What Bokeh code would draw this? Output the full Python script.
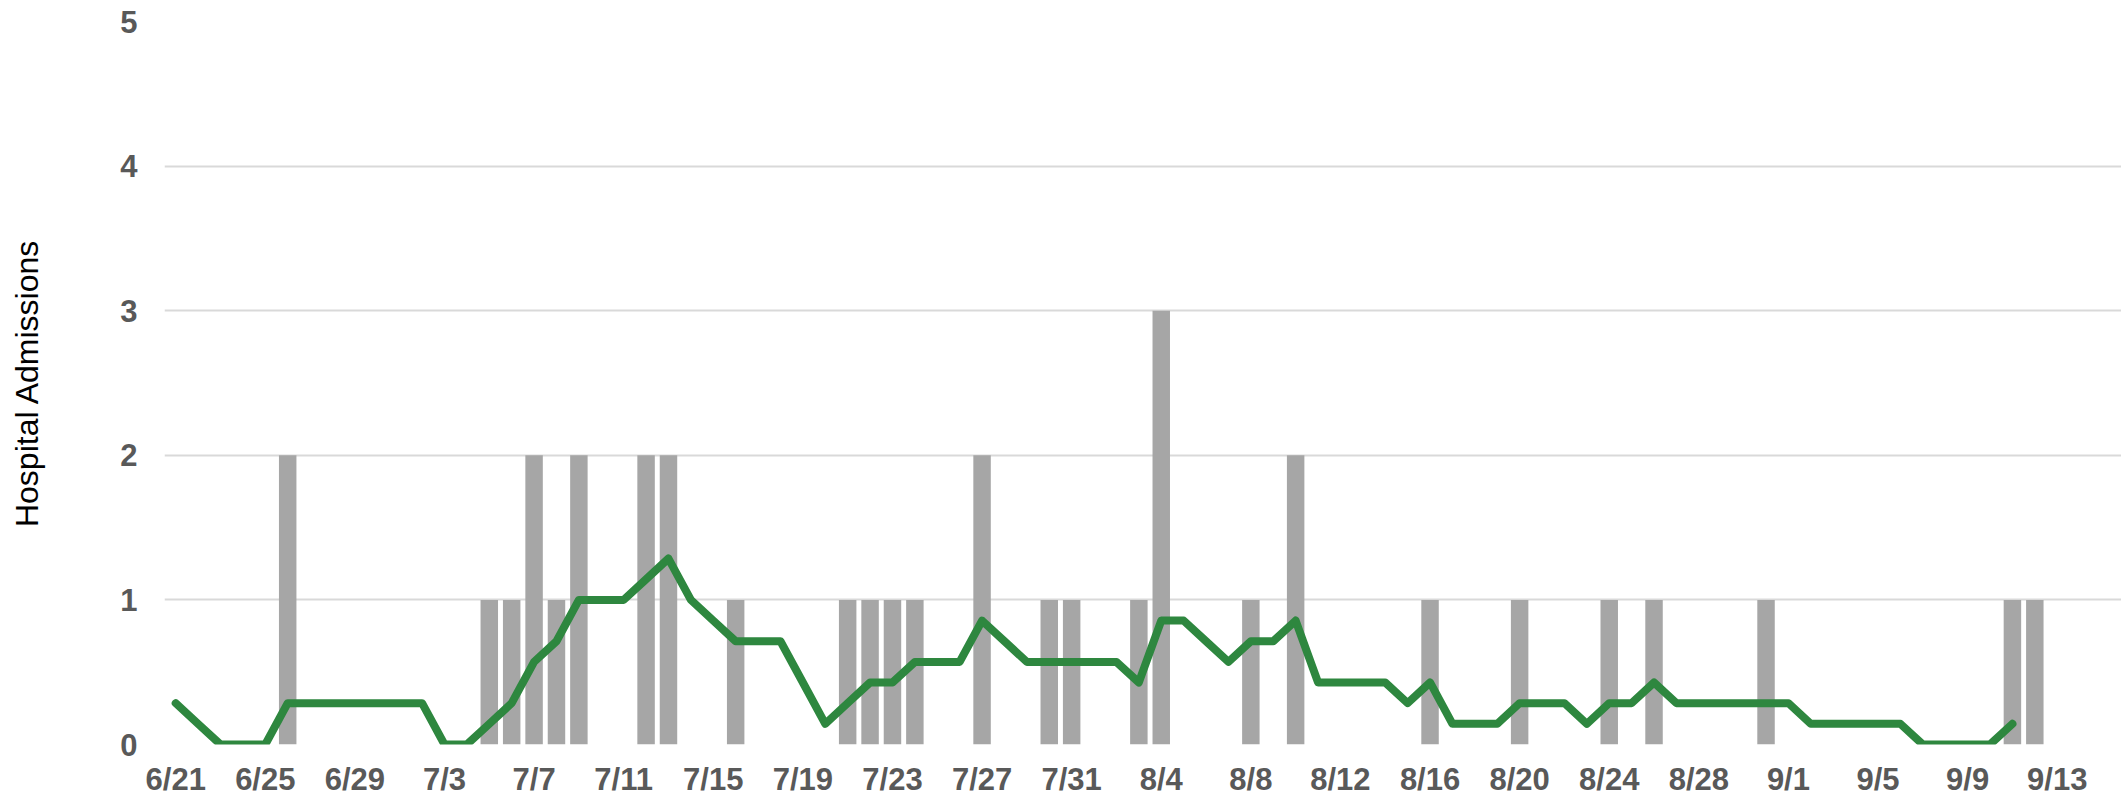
from datetime import date
from bokeh.plotting import figure
from bokeh.models import FixedTicker, Range1d
from bokeh.embed import file_html
from bokeh.resources import INLINE

YEAR = 2020
START = "6/21"

# Daily hospital admissions (gray bars)
bar_dates = ["6/26", "7/5", "7/6", "7/7", "7/8", "7/9", "7/12", "7/13", "7/16",
             "7/21", "7/22", "7/23", "7/24", "7/27", "7/30", "7/31", "8/3", "8/4",
             "8/8", "8/10", "8/16", "8/20", "8/24", "8/26", "8/31", "9/11", "9/12"]
bar_values = [2, 1, 1, 2, 1, 2, 2, 2, 1,
              1, 1, 1, 1, 2, 1, 1, 1, 3,
              1, 2, 1, 1, 1, 1, 1, 1, 1]

# 7-day average (green line), one value per day from 6/21 to 9/11
line_start = "6/21"
line_values = [0.286, 0.143, 0.0, 0.0, 0.0, 0.286, 0.286, 0.286, 0.286, 0.286,
               0.286, 0.286, 0.0, 0.0, 0.143, 0.286, 0.571, 0.714, 1.0, 1.0,
               1.0, 1.143, 1.286, 1.0, 0.857, 0.714, 0.714, 0.714, 0.429, 0.143,
               0.286, 0.429, 0.429, 0.571, 0.571, 0.571, 0.857, 0.714, 0.571, 0.571,
               0.571, 0.571, 0.571, 0.429, 0.857, 0.857, 0.714, 0.571, 0.714, 0.714,
               0.857, 0.429, 0.429, 0.429, 0.429, 0.286, 0.429, 0.143, 0.143, 0.143,
               0.286, 0.286, 0.286, 0.143, 0.286, 0.286, 0.429, 0.286, 0.286, 0.286,
               0.286, 0.286, 0.286, 0.143, 0.143, 0.143, 0.143, 0.143, 0.0, 0.0,
               0.0, 0.0, 0.143]

tick_labels = ["6/21", "6/25", "6/29", "7/3", "7/7", "7/11", "7/15", "7/19", "7/23",
               "7/27", "7/31", "8/4", "8/8", "8/12", "8/16", "8/20", "8/24", "8/28",
               "9/1", "9/5", "9/9", "9/13"]
y_ticks = [0, 1, 2, 3, 4, 5]
y_label = "Hospital Admissions"


def day_index(s):
    m, d = (int(v) for v in s.split("/"))
    m0, d0 = (int(v) for v in START.split("/"))
    return (date(YEAR, m, d) - date(YEAR, m0, d0)).days


bar_x = [day_index(s) for s in bar_dates]
l0 = day_index(line_start)
line_x = [l0 + i for i in range(len(line_values))]
tick_x = [day_index(s) for s in tick_labels]

p = figure(width=2121, height=799, output_backend="svg", toolbar_location=None,
           x_range=Range1d(-0.5, 86.87), y_range=Range1d(0, 5),
           min_border_left=164, min_border_right=0, min_border_top=21,
           min_border_bottom=52)
p.outline_line_color = None
p.background_fill_color = "white"

p.vbar(x=bar_x, top=bar_values, width=0.78, bottom=0,
       fill_color="#A6A6A6", line_color=None)
p.line(x=line_x, y=line_values, line_color="#2E873F", line_width=8,
       line_cap="round", line_join="round")

p.xgrid.grid_line_color = None
p.ygrid.grid_line_color = "#D9D9D9"
p.ygrid.grid_line_width = 2
p.ygrid.ticker = FixedTicker(ticks=y_ticks)

p.xaxis.ticker = FixedTicker(ticks=tick_x)
p.xaxis.major_label_overrides = {x: t for x, t in zip(tick_x, tick_labels)}
p.yaxis.ticker = FixedTicker(ticks=y_ticks)

for ax in (p.xaxis[0], p.yaxis[0]):
    ax.axis_line_color = None
    ax.major_tick_line_color = None
    ax.minor_tick_line_color = None
    ax.major_tick_out = 0
    ax.major_tick_in = 0
    ax.minor_tick_out = 0
    ax.major_label_text_font = "Liberation Sans"
    ax.major_label_text_font_style = "bold"
    ax.major_label_text_font_size = "31px"
    ax.major_label_text_color = "#595959"

p.xaxis.major_label_standoff = 17
p.yaxis.major_label_standoff = 27

p.yaxis.axis_label = y_label
p.yaxis.axis_label_text_font = "Liberation Sans"
p.yaxis.axis_label_text_font_style = "normal"
p.yaxis.axis_label_text_font_size = "32px"
p.yaxis.axis_label_text_color = "#000000"
p.yaxis.axis_label_standoff = 72

open("out.html", "w").write(file_html(p, INLINE))
